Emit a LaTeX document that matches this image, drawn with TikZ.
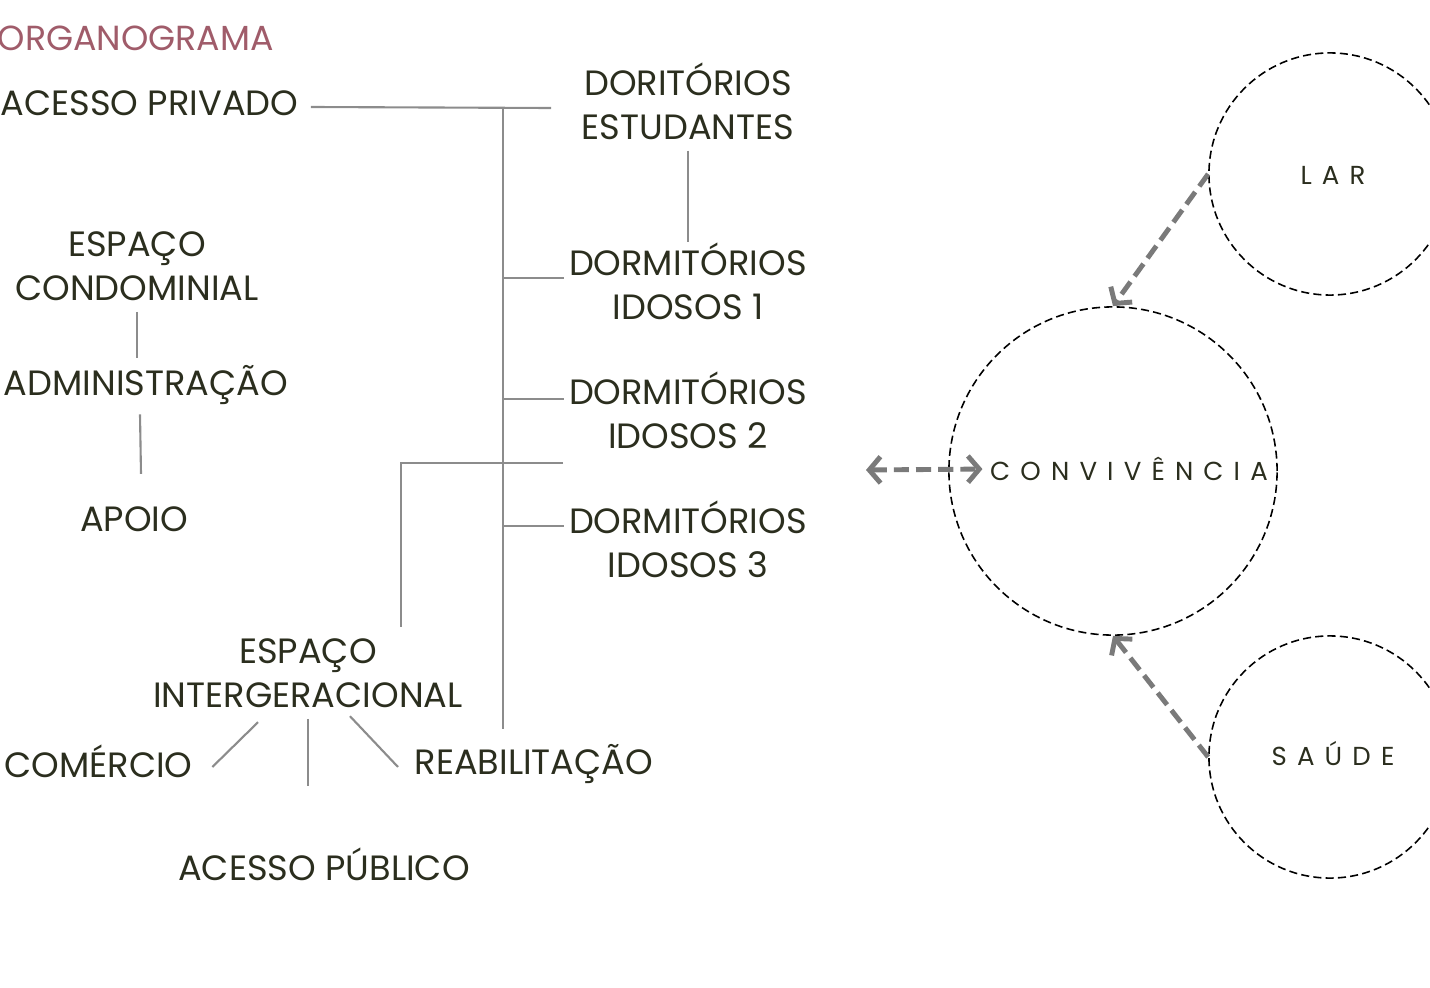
\documentclass[tikz,border=0pt]{standalone}
\usepackage{fontspec}
\setmainfont{Poppins}
\usetikzlibrary{arrows.meta}

\definecolor{txtcol}{RGB}{43,46,30}
\definecolor{titcol}{RGB}{160,92,106}
\definecolor{lncol}{RGB}{140,140,140}
\definecolor{arwcol}{RGB}{122,122,122}

\tikzstyle{lbl} = [text=txtcol, font=\fontsize{10}{12.5}\selectfont, align=center, inner sep=0pt]
\tikzstyle{titulo} = [text=titcol, font=\fontsize{9.9}{12.5}\selectfont, inner sep=0pt]
\tikzstyle{spaced} = [text=txtcol, font=\fontsize{7.4}{9}\selectfont\addfontfeature{LetterSpace=39}, inner sep=0pt]
\tikzstyle{line} = [draw=lncol, line width=0.6pt]
\tikzstyle{zone} = [circle, draw=black, dash pattern=on 2.3pt off 1.2pt, line width=0.45pt, minimum size=2.42cm, inner sep=0pt]
\tikzstyle{arw} = [-{Straight Barb[length=3.2pt,width=7.5pt]}, draw=arwcol, line width=1.4pt, dash pattern=on 4.3pt off 2pt]
\tikzstyle{arwboth} = [arw, {Straight Barb[length=3.2pt,width=7.5pt]}-{Straight Barb[length=3.2pt,width=7.5pt]}]

\begin{document}
\begin{tikzpicture}[x=0.01cm, y=-0.01cm]
\clip (0,0) rectangle (1430,988);

\node[titulo, anchor=west] (titulo) at (-3,38) {ORGANOGRAMA};

% lado privado
\node[lbl, anchor=west] (acpriv) at (0,103) {ACESSO PRIVADO};
\node[lbl] (dorest) at (688,101) {DORITÓRIOS\\ESTUDANTES};
\node[lbl] (ido1) at (688,281) {DORMITÓRIOS\\IDOSOS 1};
\node[lbl] (ido2) at (688,410) {DORMITÓRIOS\\IDOSOS 2};
\node[lbl] (ido3) at (688,539) {DORMITÓRIOS\\IDOSOS 3};

\node[lbl] (espcond) at (137,266) {ESPAÇO\\CONDOMINIAL};
\node[lbl] (admin) at (146,385) {ADMINISTRAÇÃO};
\node[lbl] (apoio) at (134,519) {APOIO};

% lado publico
\node[lbl] (interg) at (308,673) {ESPAÇO\\INTERGERACIONAL};
\node[lbl, anchor=west] (comercio) at (4,761) {COMÉRCIO};
\node[lbl, anchor=west] (reab) at (414,764) {REABILITAÇÃO};
\node[lbl] (acpub) at (324,864) {ACESSO PÚBLICO};

\coordinate (pTop) at (503,108);
\coordinate (pEnd) at (551,108);
\coordinate (pBot) at (503,729);
\coordinate (b1) at (564,278);
\coordinate (b2) at (564,399);
\coordinate (b3) at (564,526);
\coordinate (jR) at (563,463);
\coordinate (jL) at (401,463);
\coordinate (pubtop) at (308,786);

\draw[line] ([shift={(12,4)}]acpriv.east) -- (pEnd);
\draw[line] (pTop) -- (pBot);
\draw[line] (pTop |- b1) -- (b1);
\draw[line] (pTop |- b2) -- (b2);
\draw[line] (pTop |- b3) -- (b3);
\draw[line, shorten <=3pt] (dorest.south) -- (ido1.north);

\draw[line, shorten <=3pt, shorten >=2pt] (espcond.south) -- (espcond.south |- admin.north);
\draw[line] ([shift={(-6,9)}]admin.south) -- ([shift={(7,-32)}]apoio.north);

\draw[line, shorten >=3pt] (jR) -- (jL) -- (jL |- interg.north);
\draw[line] ([shift={(-50,14)}]interg.south) -- ([shift={(19,6)}]comercio.east);
\draw[line, shorten <=3pt] (interg.south) -- (pubtop);
\draw[line] ([shift={(42,8)}]interg.south) -- ([shift={(-16,3)}]reab.west);

% zonas
\node[zone] (lar) at (1330,174) {};
\node[spaced] (lartxt) at (1333,175) {LAR};
\node[zone, minimum size=3.28cm] (conv) at (1113,471) {};
\node[spaced] (convtxt) at (1129,469) {CONVIVÊNCIA};
\node[zone] (saude) at (1330,757) {};
\node[spaced] (saudetxt) at (1333,754) {SAÚDE};

\coordinate (convL) at (866,470);
\draw[arw] (lar.west) -- (conv.north);
\draw[arw] (saude.west) -- (conv.south);
\draw[arwboth, shorten >=2pt] (convL) -- (convtxt.west);

\end{tikzpicture}
\end{document}
